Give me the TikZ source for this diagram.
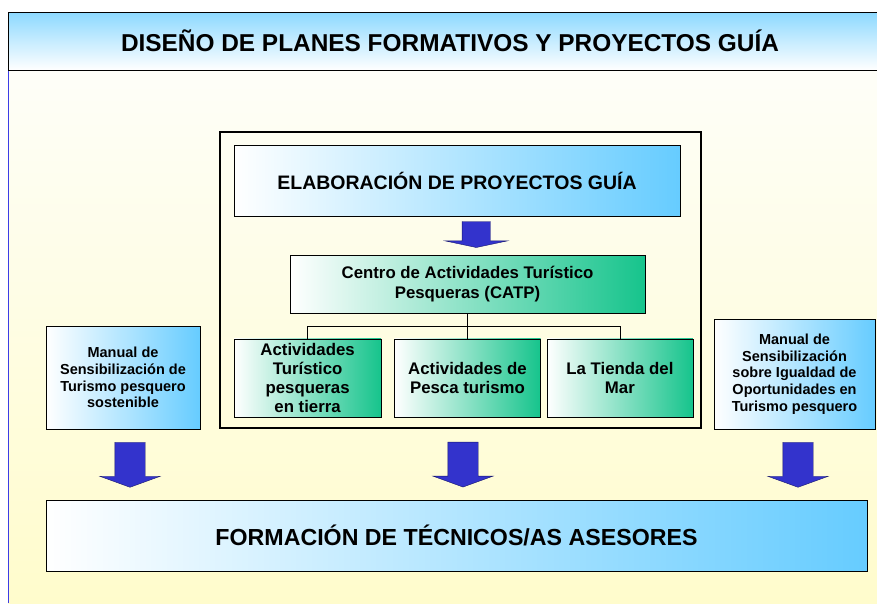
\documentclass[tikz,border=0pt]{standalone}
\usepackage{fontspec}
\setmainfont{Liberation Sans}
\usetikzlibrary{positioning}
\usetikzlibrary{shapes.arrows}
\definecolor{lblue}{RGB}{102,204,255}
\definecolor{tgreen}{RGB}{22,196,140}
\definecolor{arrowblue}{RGB}{51,51,204}
\definecolor{arrowline}{RGB}{25,25,110}
\definecolor{bgtop}{RGB}{254,254,248}
\definecolor{bgbottom}{RGB}{255,252,204}
\definecolor{edgeblue}{RGB}{60,60,230}

\begin{document}
\begin{tikzpicture}[x=1pt,y=-1pt,
    bluebox/.style={draw=black, rectangle, left color=white, right color=lblue, align=center, inner sep=0pt},
    greenbox/.style={draw=black, rectangle, left color=white, right color=tgreen, align=center, inner sep=0pt},
    small/.style={font=\fontsize{14.5}{16.7}\selectfont\bfseries},
    medium/.style={font=\fontsize{16.8}{19.2}\selectfont\bfseries},
    blockarrow/.style={single arrow, draw=arrowline, fill=arrowblue, yshift=2.5pt, rotate=-90, minimum height=45pt,
        inner xsep=0pt, inner ysep=15pt, single arrow head extend=15pt, single arrow tip angle=140},
    shortarrow/.style={blockarrow, minimum height=26pt, inner ysep=14pt, single arrow head extend=17pt, single arrow tip angle=156}]
\useasboundingbox (0,0) rectangle (877,603);
\fill[top color=bgtop, bottom color=bgbottom] (8,70) rectangle (877,603);
\draw[edgeblue, line width=1pt] (8,70) -- (8,603);
\node[draw=black, top color=lblue!75, bottom color=white, minimum width=884pt, minimum height=58pt,
    font=\fontsize{24.4}{28}\selectfont\bfseries] (title) at (450,41) {DISEÑO DE PLANES FORMATIVOS Y PROYECTOS GUÍA};

\node[draw=black, line width=1.5pt, minimum width=481pt, minimum height=296pt] (frame) at (460.5,280) {};
\node[bluebox, minimum width=446pt, minimum height=71pt, font=\fontsize{19.5}{23}\selectfont\bfseries] (elab) at (457,180.5) {ELABORACIÓN DE PROYECTOS GUÍA};
\node[greenbox, medium, minimum width=355pt, minimum height=58pt] (catp) at (467.5,284) {Centro de Actividades Turístico\\Pesqueras (CATP)};
\node[greenbox, medium, minimum width=146pt, minimum height=78pt] (pesca) [below=25.5pt of catp] {Actividades de\\Pesca turismo};
\node[greenbox, medium, minimum width=147pt, minimum height=78pt] (tierra) [left=13pt of pesca] {Actividades\\Turístico\\pesqueras\\en tierra};
\node[greenbox, medium, minimum width=146pt, minimum height=78pt] (tienda) [right=6pt of pesca] {La Tienda del\\Mar};

\node[bluebox, small, minimum width=154pt, minimum height=103pt] (sostenible) at (123,377.5) {Manual de\\Sensibilización de\\Turismo pesquero\\sostenible};
\node[bluebox, small, minimum width=161pt, minimum height=110pt] (igualdad) at (794.5,374) {Manual de\\Sensibilización\\sobre Igualdad de\\Oportunidades en\\Turismo pesquero};
\node[bluebox, minimum width=821pt, minimum height=71pt, font=\fontsize{23.2}{27}\selectfont\bfseries] (formacion) at (456.5,535.5) {FORMACIÓN DE TÉCNICOS/AS ASESORES};

\draw (catp.south) -- (pesca.north);
\draw (tierra.north) |- ([yshift=-13pt]catp.south) -| (tienda.north);

\path (elab.south) -- (catp.north) node[midway, xshift=14pt, shortarrow] (a1) {};
\path (sostenible.south) -- (sostenible.south |- formacion.north) node[midway, xshift=7pt, blockarrow] (a2) {};
\path (frame.south) -- (frame.south |- formacion.north) node[midway, xshift=2.5pt, blockarrow] (a3) {};
\path (igualdad.south) -- (igualdad.south |- formacion.north) node[midway, xshift=3.5pt, blockarrow] (a4) {};
\end{tikzpicture}
\end{document}
